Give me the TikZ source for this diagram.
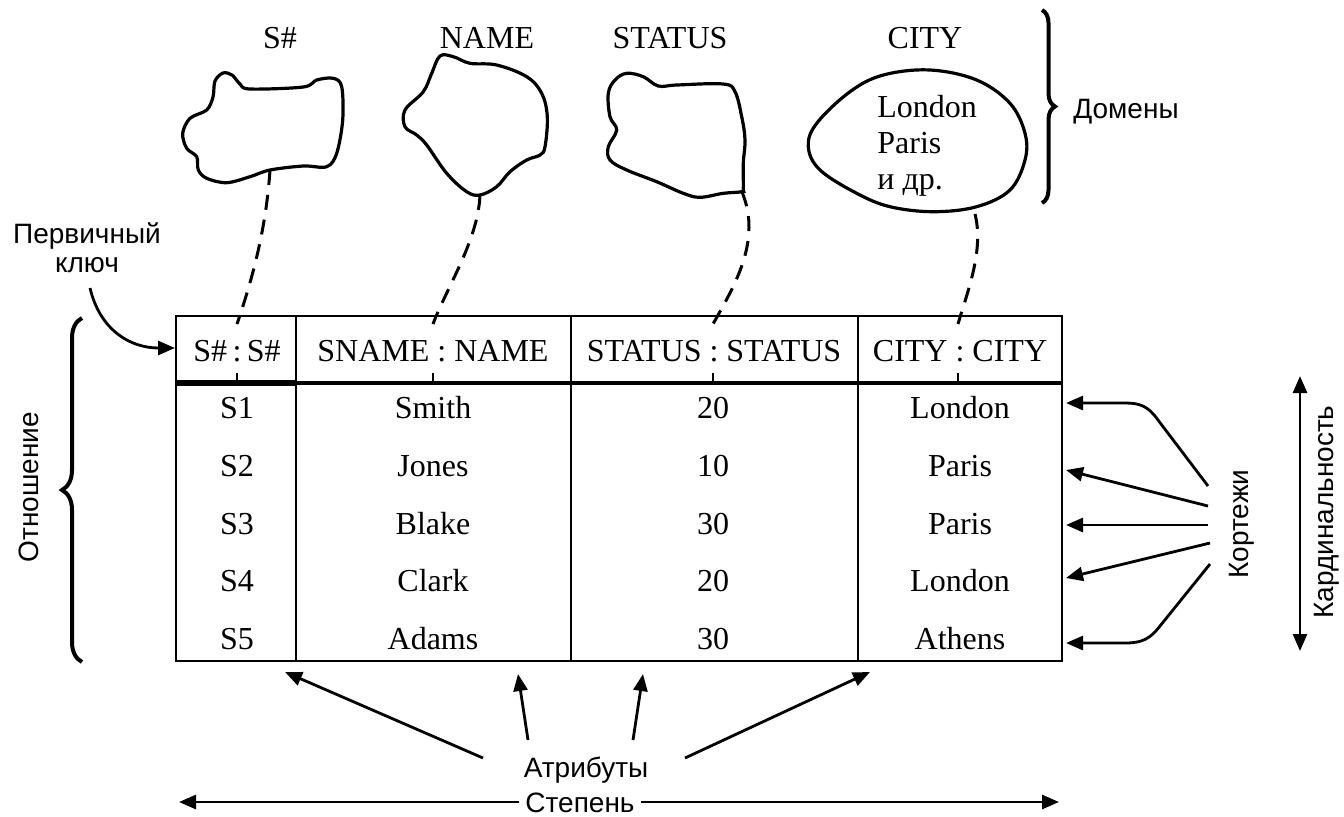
\documentclass[tikz,border=0pt]{standalone}
\usepackage{fontspec}
\setmainfont{Liberation Serif}
\newfontfamily\labfont{Liberation Sans}
\usetikzlibrary{arrows.meta,decorations.pathreplacing}
\begin{document}
\begin{tikzpicture}[x=0.5pt,y=-0.5pt,
  serif/.style={font=\fontsize{16}{18}\selectfont, inner sep=0pt, anchor=base},
  lab/.style={font=\labfont\fontsize{14}{16}\selectfont, inner sep=0pt, anchor=base},
  rlab/.style={font=\labfont\fontsize{14}{16}\selectfont, inner sep=0pt, rotate=90},
  blob/.style={line width=1.6pt},
  link/.style={line width=1.5pt, dash pattern=on 7.5pt off 5pt},
  grid/.style={line width=1.2pt},
  arr/.style={line width=1.4pt,-{Triangle[length=8.5pt,width=7pt]}},
  dbl/.style={line width=1.4pt,{Triangle[length=8.5pt,width=7pt]}-{Triangle[length=8.5pt,width=7pt]}},
  brc/.style={line width=2pt, decorate, decoration={brace,amplitude=#1}},
]
\useasboundingbox (0,0) rectangle (1344,816);

% domain names
\node[serif] (dS)  at (280,48) {S\#};
\node[serif] (dN)  at (487,48) {NAME};
\node[serif] (dST) at (670,48) {STATUS};
\node[serif] (dC)  at (925,48) {CITY};

% domain blobs
\draw[blob] plot[smooth cycle, tension=0.55] coordinates {(223,73) (232,75) (240,84) (250,89) (303.3,87) (316.7,80) (333.3,78.3) (341.7,86.7) (342.7,120) (336.7,153.3) (326.7,166.7) (303.3,166) (270,170) (250,176.7) (226.7,182.7) (206.7,178.3) (198.3,170) (196.7,156.7) (186.7,148.3) (182.7,133.3) (190,118.3) (206.7,110) (213,97) (215,81)};
\draw[blob] plot[smooth cycle, tension=0.6] coordinates {(440,56) (453.3,56.7) (470,63.3) (496.7,65) (526.7,76.7) (541.7,93.3) (547.3,116.7) (545,146.7) (540,155) (526.7,160) (510,171.7) (496.7,186.7) (480,195) (466.7,191.7) (446.7,173.3) (426.7,145) (416.7,135) (405,126.7) (405,110) (423.3,91.7) (431.7,73.3)};
\draw[blob] plot[smooth cycle, tension=0.6] coordinates {(626.7,73.3) (643.3,76.7) (658.3,86) (676.7,85) (723.3,84) (735,91.7) (741.7,116.7) (745,140) (743.3,163.3) (743.3,188.3) (741.7,191.7) (723.3,193.3) (700,197.3) (683.3,193.3) (656.7,181.7) (626.7,170) (610,160) (608.3,146.7) (616.7,130) (610,116.7) (608.3,93.3) (615,80)};
\draw[blob] plot[smooth cycle, tension=0.6] coordinates {(930,70) (976.7,80) (1010,103.3) (1025,133.3) (1025,160) (1010,190) (976.7,206.7) (933.3,211.7) (890,206.7) (856.7,193.3) (820,170) (808.3,146.7) (816.7,123.3) (850,91.7) (883.3,75)};
\node[font=\fontsize{16}{18}\selectfont, inner sep=0pt, align=left, anchor=west] (cityvals) at (877,146) {London\\Paris\\и др.};

% brace Domains
\draw[brc=6.5pt] (1042,10) -- (1042,203);
\node[lab] (dom) at (1126,118) {Домены};

% table
\draw[grid] (176,316) rectangle (1062,661);
\draw[line width=1.6pt] (176,383) -- (1062,383);
\draw[line width=2.8pt] (176,383) -- (296,383);
\draw[grid] (296,316) -- (296,661);
\draw[grid] (571,316) -- (571,661);
\draw[grid] (858,316) -- (858,661);
\foreach \x in {237,433,713,958} { \draw[line width=1.3pt] (\x,373) -- (\x,383); }

\coordinate (t1) at (237,324);
\coordinate (t2) at (433,324);
\coordinate (t3) at (713,324);
\coordinate (t4) at (958,324);
\coordinate (sb)  at (270,170);
\coordinate (nb)  at (480,195);
\coordinate (stb) at (742,192);
\coordinate (cb)  at (975,214);
\draw[link] (sb) .. controls (266,230) and (252,280) .. (t1);
\draw[link] (nb) .. controls (478,240) and (448,285) .. (t2);
\draw[link] (stb) .. controls (762,240) and (735,285) .. (t3);
\draw[link] (cb) .. controls (984,250) and (968,290) .. (t4);

\node[serif] (h1) at (237,361) {S\#\,:\,S\#};
\node[serif] (h2) at (433,361) {SNAME : NAME};
\node[serif] (h3) at (714,361) {STATUS : STATUS};
\node[serif] (h4) at (960,361) {CITY : CITY};

\foreach \i/\y/\a/\b/\c/\d in {1/418/S1/Smith/20/London, 2/476/S2/Jones/10/Paris, 3/534/S3/Blake/30/Paris, 4/591/S4/Clark/20/London, 5/649/S5/Adams/30/Athens} {
  \node[serif] (r\i-a) at (237,\y) {\a};
  \node[serif] (r\i-b) at (433,\y) {\b};
  \node[serif] (r\i-c) at (713,\y) {\c};
  \node[serif] (r\i-d) at (960,\y) {\d};
}

% primary key
\node[lab] (pk1) at (87,243) {Первичный};
\node[lab] (pk2) at (87,272) {ключ};
\coordinate (pks) at (90,288);
\coordinate (pkt) at (175,348);
\draw[arr] (pks) .. controls (100,330) and (130,348) .. (pkt);

% relation brace
\draw[brc=10pt] (82,662) -- (82,318);
\node[rlab] (rel) at (29,487) {Отношение};

% tuples
\coordinate (k1) at (1208,486);
\coordinate (k2) at (1208,506);
\coordinate (k3) at (1208,525);
\coordinate (k4) at (1210,543);
\coordinate (k5) at (1210,564);
\coordinate (e1) at (1066,403);
\coordinate (e2) at (1066,470);
\coordinate (e3) at (1066,525);
\coordinate (e4) at (1066,578);
\coordinate (e5) at (1066,643);
\draw[arr] (k1) -- (1158,420) .. controls (1148,406) and (1140,403) .. (1125,403) -- (e1);
\draw[arr] (k2) -- (e2);
\draw[arr] (k3) -- (e3);
\draw[arr] (k4) -- (e4);
\draw[arr] (k5) -- (1160,626) .. controls (1150,639) and (1142,643) .. (1125,643) -- (e5);
\node[rlab] (tup) at (1242,524) {Кортежи};

% cardinality
\coordinate (c1) at (1300,376);
\coordinate (c2) at (1300,651);
\draw[dbl] (c1) -- (c2);
\node[rlab] (card) at (1327,512) {Кардинальность};

% attributes
\node[lab] (attr) at (586,777) {Атрибуты};
\coordinate (a1s) at (483,758); \coordinate (a1t) at (285,672);
\coordinate (a2s) at (528,740); \coordinate (a2t) at (518,674);
\coordinate (a3s) at (633,740); \coordinate (a3t) at (643,674);
\coordinate (a4s) at (685,758); \coordinate (a4t) at (870,672);
\draw[arr] (a1s) -- (a1t);
\draw[arr] (a2s) -- (a2t);
\draw[arr] (a3s) -- (a3t);
\draw[arr] (a4s) -- (a4t);

% degree
\node[lab, inner xsep=3pt] (deg) at (580,812) {Степень};
\coordinate (dL) at (179,802);
\coordinate (dR) at (1059,802);
\draw[arr] (deg.west |- dL) -- (dL);
\draw[arr] (deg.east |- dR) -- (dR);
\end{tikzpicture}
\end{document}
